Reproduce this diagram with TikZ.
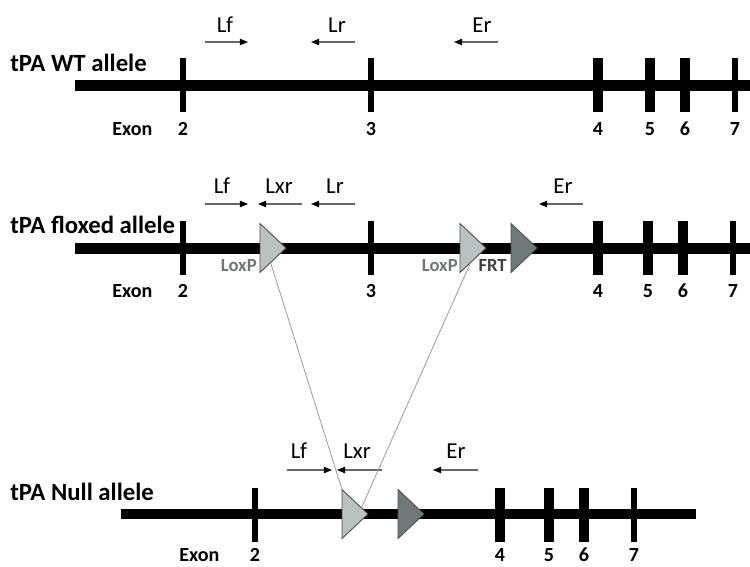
\documentclass[tikz,border=0pt]{standalone}
\usepackage{fontspec}
\setmainfont{Carlito}
\usetikzlibrary{arrows.meta,shapes.geometric}
\definecolor{loxgray}{HTML}{B9C1C1}
\definecolor{frtgray}{HTML}{6F7979}
\definecolor{tagtext}{HTML}{6E7676}

\begin{document}
\begin{tikzpicture}[x=0.02cm,y=-0.02cm,
  dna/.style={draw=black,line width=6.2pt},
  exon/.style={fill=black,inner sep=0pt,outer sep=0pt,minimum height=1.08cm,minimum width=#1},
  exon/.default=3.4pt,
  site/.style={isosceles triangle,isosceles triangle stretches,shape border rotate=0,minimum width=0.98cm,minimum height=0.52cm,inner sep=0pt,outer sep=0pt,draw=black!70,line width=0.5pt,anchor=apex},
  loxp/.style={site,fill=loxgray},
  frt/.style={site,fill=frtgray},
  title/.style={font=\fontsize{14.1}{16}\selectfont\bfseries,inner sep=0pt,anchor=base west},
  exonlbl/.style={font=\fontsize{11.4}{13}\selectfont\bfseries,inner sep=0pt,anchor=base west},
  num/.style={font=\fontsize{11.4}{13}\selectfont\bfseries,inner sep=0pt,anchor=base},
  tag/.style={font=\fontsize{10.6}{12}\selectfont\bfseries,text=tagtext,inner sep=0pt,anchor=base east},
  plbl/.style={font=\fontsize{13}{15}\selectfont,inner sep=0pt,anchor=base},
  primer/.style={draw=black!60,line width=0.6pt,-{Triangle[length=4.6pt,width=3.6pt,black]}},
  recomb/.style={draw=black!40,line width=0.45pt}]
\useasboundingbox (0,0) rectangle (750,566);

% WT allele
\coordinate (wtL) at (75,85.5);
\coordinate (wtR) at (750,85.5);
\draw[dna] (wtL) -- (wtR);
\node[exon] (wt2) at (183,85) {};
\node[exon] (wt3) at (371,85) {};
\node[exon=6.2pt] (wt4) at (598,85) {};
\node[exon=5.7pt] (wt5) at (650,85) {};
\node[exon=5.7pt] (wt6) at (685,85) {};
\node[exon] (wt7) at (735,85) {};
\node[title] (wtTitle) at (10,71) {tPA WT allele};
\node[exonlbl] (wtExon) at (112,135) {Exon};
\node[num] (wtN2) at (183,135) {2};
\node[num] (wtN3) at (371,135) {3};
\node[num] (wtN4) at (598,135) {4};
\node[num] (wtN5) at (650,135) {5};
\node[num] (wtN6) at (685,135) {6};
\node[num] (wtN7) at (735,135) {7};
\coordinate (wtLfA) at (205,42); \coordinate (wtLfB) at (248,42);
\coordinate (wtLrA) at (355,42); \coordinate (wtLrB) at (311,42);
\coordinate (wtErA) at (498,42); \coordinate (wtErB) at (454,42);
\draw[primer] (wtLfA) -- (wtLfB);
\draw[primer] (wtLrA) -- (wtLrB);
\draw[primer] (wtErA) -- (wtErB);
\node[plbl] (wtLf) at (225,32) {Lf};
\node[plbl] (wtLr) at (337,32) {Lr};
\node[plbl] (wtEr) at (482,32) {Er};

% floxed allele
\coordinate (flL) at (75,248.5);
\coordinate (flR) at (750,248.5);
\draw[dna] (flL) -- (flR);
\node[exon] (fl2) at (183,248) {};
\node[exon] (fl3) at (371,248) {};
\node[exon=6.2pt] (fl4) at (598,248) {};
\node[exon=5.7pt] (fl5) at (648,248) {};
\node[exon=5.7pt] (fl6) at (683,248) {};
\node[exon] (fl7) at (733,248) {};
\node[loxp] (flLox1) at (286,248) {};
\node[loxp] (flLox2) at (486,248) {};
\node[frt] (flFrt) at (537,248) {};
\node[tag] (flLox1Tag) at (257,271) {LoxP};
\node[tag] (flLox2Tag) at (458,271) {LoxP};
\node[tag,text=black!75] (flFrtTag) at (507,271) {FRT};
\node[title] (flTitle) at (10,233) {tPA floxed allele};
\node[exonlbl] (flExon) at (112,297) {Exon};
\node[num] (flN2) at (183,297) {2};
\node[num] (flN3) at (371,297) {3};
\node[num] (flN4) at (598,297) {4};
\node[num] (flN5) at (648,297) {5};
\node[num] (flN6) at (683,297) {6};
\node[num] (flN7) at (733,297) {7};
\coordinate (flLfA) at (205,204); \coordinate (flLfB) at (248,204);
\coordinate (flLxrA) at (302,204); \coordinate (flLxrB) at (258,204);
\coordinate (flLrA) at (355,204); \coordinate (flLrB) at (311,204);
\coordinate (flErA) at (583,204); \coordinate (flErB) at (539,204);
\draw[primer] (flLfA) -- (flLfB);
\draw[primer] (flLxrA) -- (flLxrB);
\draw[primer] (flLrA) -- (flLrB);
\draw[primer] (flErA) -- (flErB);
\node[plbl] (flLf) at (222,193) {Lf};
\node[plbl] (flLxr) at (279,193) {Lxr};
\node[plbl] (flLr) at (335,193) {Lr};
\node[plbl] (flEr) at (563,193) {Er};

% null allele
\coordinate (nuL) at (121,514);
\coordinate (nuR) at (696,514);
\draw[dna] (nuL) -- (nuR);
\node[exon] (nu2) at (255,515) {};
\node[exon=6.2pt] (nu4) at (500,515) {};
\node[exon=5.7pt] (nu5) at (549,515) {};
\node[exon=5.7pt] (nu6) at (584,515) {};
\node[exon] (nu7) at (634,515) {};
\node[loxp] (nuLox) at (368,514) {};
\node[frt] (nuFrt) at (424,514) {};
\node[title] (nuTitle) at (10,500) {tPA Null allele};
\node[exonlbl] (nuExon) at (179,561) {Exon};
\node[num] (nuN2) at (255,561) {2};
\node[num] (nuN4) at (500,561) {4};
\node[num] (nuN5) at (549,561) {5};
\node[num] (nuN6) at (584,561) {6};
\node[num] (nuN7) at (634,561) {7};
\coordinate (nuLfA) at (287,470); \coordinate (nuLfB) at (332,470);
\coordinate (nuLxrA) at (382,470); \coordinate (nuLxrB) at (337,470);
\coordinate (nuErA) at (478,470); \coordinate (nuErB) at (433,470);
\draw[primer] (nuLfA) -- (nuLfB);
\draw[primer] (nuLxrA) -- (nuLxrB);
\draw[primer] (nuErA) -- (nuErB);
\node[plbl] (nuLf) at (299,458) {Lf};
\node[plbl] (nuLxr) at (357,458) {Lxr};
\node[plbl] (nuEr) at (456,458) {Er};

% recombination
\draw[recomb] (flLox1.south) -- (nuLox.left corner);
\draw[recomb] (flLox2.south) -- (nuLox.35);
\end{tikzpicture}
\end{document}
